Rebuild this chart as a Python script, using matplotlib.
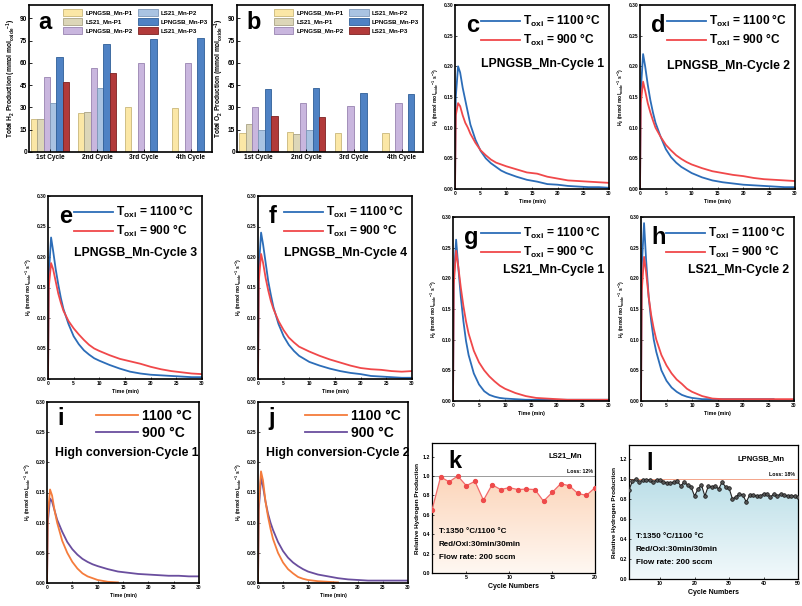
import numpy as np
import matplotlib
matplotlib.use('Agg')
import matplotlib.pyplot as plt
from matplotlib.colors import LinearSegmentedColormap

plt.rcParams['font.family'] = ['Liberation Sans', 'DejaVu Sans']
plt.rcParams['font.weight'] = 'bold'
plt.rcParams['axes.labelweight'] = 'bold'
plt.rcParams['mathtext.fontset'] = 'custom'
plt.rcParams['mathtext.rm'] = 'Liberation Sans:bold'
plt.rcParams['mathtext.it'] = 'Liberation Sans:bold'
plt.rcParams['mathtext.bf'] = 'Liberation Sans:bold'
plt.rcParams['xtick.direction'] = 'in'
plt.rcParams['ytick.direction'] = 'in'

nan = np.nan

# ---- a / b : total production bars ----
cycles = ['1st Cycle', '2nd Cycle', '3rd Cycle', '4th Cycle']
series = ['LPNGSB_Mn-P1', 'LS21_Mn-P1', 'LPNGSB_Mn-P2', 'LS21_Mn-P2', 'LPNGSB_Mn-P3', 'LS21_Mn-P3']
h2_total = [
    [22.0, 26.3, 30.2, 29.5],
    [22.0, 26.7, nan, nan],
    [50.7, 56.5, 59.8, 59.8],
    [33.2, 43.3, nan, nan],
    [63.8, 72.8, 76.0, 77.0],
    [47.0, 53.3, nan, nan],
]
o2_total = [
    [12.8, 13.2, 12.8, 12.6],
    [18.6, 12.0, nan, nan],
    [30.2, 33.0, 31.0, 32.8],
    [14.8, 14.8, nan, nan],
    [42.2, 43.0, 39.5, 39.0],
    [24.0, 23.5, nan, nan],
]
bar_colors = ['#FBE7A6', '#DCD6B8', '#C9B6DE', '#A9C3E2', '#4F82C4', '#B23A3A']
bar_edges = ['#C9B77A', '#A9A386', '#9883B0', '#7E98B8', '#2F5E98', '#7C2222']

# ---- c-h : H2 production rate (time in min) ----
t = [0, 0.15, 0.6, 1, 1.5, 2, 2.5, 3, 4, 5, 6, 7, 8, 9, 10, 12, 14, 16, 18, 20, 22, 24, 26, 28, 30]
c_1100 = [0, 0.150, 0.200, 0.190, 0.165, 0.145, 0.125, 0.105, 0.080, 0.062, 0.050, 0.042, 0.036, 0.030, 0.026, 0.020, 0.015, 0.012, 0.008, 0.007, 0.005, 0.004, 0.003, 0.003, 0.002]
c_900 = [0, 0.120, 0.140, 0.135, 0.120, 0.108, 0.100, 0.090, 0.075, 0.063, 0.055, 0.048, 0.043, 0.040, 0.037, 0.032, 0.027, 0.025, 0.020, 0.017, 0.014, 0.013, 0.012, 0.011, 0.010]
d_1100 = [0, 0.160, 0.220, 0.200, 0.170, 0.145, 0.125, 0.108, 0.085, 0.065, 0.052, 0.043, 0.036, 0.031, 0.026, 0.019, 0.014, 0.011, 0.009, 0.007, 0.006, 0.005, 0.004, 0.003, 0.003]
d_900 = [0, 0.140, 0.175, 0.160, 0.140, 0.125, 0.112, 0.100, 0.085, 0.072, 0.063, 0.055, 0.049, 0.044, 0.040, 0.034, 0.029, 0.026, 0.023, 0.021, 0.018, 0.016, 0.015, 0.014, 0.013]
e_1100 = [0, 0.170, 0.232, 0.210, 0.180, 0.155, 0.133, 0.115, 0.090, 0.070, 0.057, 0.047, 0.040, 0.034, 0.030, 0.023, 0.017, 0.012, 0.009, 0.007, 0.006, 0.005, 0.004, 0.003, 0.003]
e_900 = [0, 0.150, 0.190, 0.180, 0.160, 0.140, 0.125, 0.112, 0.095, 0.083, 0.073, 0.064, 0.056, 0.050, 0.046, 0.039, 0.033, 0.029, 0.025, 0.020, 0.016, 0.013, 0.011, 0.009, 0.008]
f_1100 = [0, 0.180, 0.240, 0.220, 0.190, 0.160, 0.138, 0.118, 0.090, 0.070, 0.056, 0.046, 0.038, 0.033, 0.028, 0.022, 0.017, 0.013, 0.010, 0.008, 0.005, 0.004, 0.003, 0.002, 0.002]
f_900 = [0, 0.160, 0.205, 0.190, 0.165, 0.145, 0.128, 0.115, 0.095, 0.080, 0.068, 0.060, 0.053, 0.049, 0.045, 0.038, 0.032, 0.027, 0.022, 0.018, 0.016, 0.015, 0.013, 0.012, 0.013]
g_1100 = [0, 0.200, 0.263, 0.220, 0.170, 0.130, 0.098, 0.075, 0.045, 0.027, 0.016, 0.010, 0.007, 0.005, 0.004, 0.003, 0.002, 0.002, 0.002, 0.002, 0.002, 0.002, 0.002, 0.002, 0.002]
g_900 = [0, 0.190, 0.245, 0.220, 0.185, 0.155, 0.130, 0.110, 0.082, 0.063, 0.050, 0.040, 0.032, 0.025, 0.020, 0.013, 0.008, 0.005, 0.004, 0.003, 0.002, 0.002, 0.002, 0.002, 0.002]
h_1100 = [0, 0.220, 0.290, 0.230, 0.170, 0.130, 0.100, 0.080, 0.050, 0.033, 0.022, 0.015, 0.010, 0.007, 0.005, 0.003, 0.003, 0.003, 0.003, 0.003, 0.003, 0.003, 0.003, nan, nan]
h_900 = [0, 0.180, 0.235, 0.210, 0.170, 0.140, 0.118, 0.100, 0.075, 0.058, 0.045, 0.035, 0.028, 0.020, 0.015, 0.008, 0.004, 0.003, 0.003, 0.003, 0.003, 0.003, 0.003, 0.003, 0.003]

# ---- i, j : high conversion ----
i_1100 = [0, 0.110, 0.155, 0.145, 0.120, 0.100, 0.085, 0.070, 0.050, 0.035, 0.024, 0.016, 0.011, 0.008, 0.005, 0.002, 0.001, nan, nan, nan, nan, nan, nan, nan, nan]
i_900 = [0, 0.100, 0.140, 0.135, 0.120, 0.105, 0.095, 0.085, 0.068, 0.056, 0.047, 0.040, 0.035, 0.031, 0.028, 0.023, 0.019, 0.017, 0.015, 0.014, 0.013, 0.012, 0.012, 0.011, 0.011]
j_1100 = [0, 0.130, 0.185, 0.170, 0.135, 0.110, 0.090, 0.073, 0.050, 0.034, 0.023, 0.016, 0.010, 0.007, 0.005, 0.003, 0.002, 0.001, nan, nan, nan, nan, nan, nan, nan]
j_900 = [0, 0.120, 0.175, 0.160, 0.135, 0.115, 0.100, 0.088, 0.068, 0.053, 0.042, 0.034, 0.028, 0.023, 0.019, 0.014, 0.011, 0.008, 0.006, 0.005, 0.004, 0.004, 0.004, 0.004, 0.004]

# ---- k, l : cycling stability ----
k_cycles = list(range(1, 21))
k_rel = [0.65, 0.99, 0.94, 1.00, 0.90, 0.945, 0.75, 0.91, 0.86, 0.88, 0.86, 0.865, 0.86, 0.74, 0.83, 0.92, 0.90, 0.82, 0.80, 0.88]
l_cycles = list(range(1, 51))
l_rel = [0.89, 0.98, 1.00, 0.97, 0.99, 0.99, 0.99, 0.97, 0.99, 0.99,
         0.97, 0.96, 0.96, 0.97, 0.98, 0.93, 0.97, 0.94, 0.92, 0.83,
         0.90, 0.94, 0.83, 0.93, 0.92, 0.93, 0.90, 0.97, 0.92, 0.91,
         0.80, 0.82, 0.85, 0.84, 0.77, 0.84, 0.84, 0.83, 0.83, 0.85,
         0.85, 0.82, 0.85, 0.83, 0.85, 0.84, 0.83, 0.83, 0.83, 0.82]

BLUE = '#2C6DB8'
RED = '#F0484A'
ORANGE = '#F57C3C'
PURPLE = '#6A4E9E'

W, H = 802, 606
fig = plt.figure(figsize=(W / 100, H / 100), dpi=100)


def add_ax(l, r, t_, b):
    return fig.add_axes([l / W, 1 - b / H, (r - l) / W, (b - t_) / H])


def frame(ax, lw=1.2):
    for s in ax.spines.values():
        s.set_linewidth(lw)


# bars
for box, data, lab, letter in [((29, 212, 5, 152), h2_total, r'Total H$_2$ Production (mmol mol$_{oxide}$$^{-1}$)', 'a'),
                               ((237, 423, 5, 152), o2_total, r'Total O$_2$ Production (mmol mol$_{oxide}$$^{-1}$)', 'b')]:
    ax = add_ax(*box)
    x = np.arange(len(cycles))
    w = 0.135
    for k in range(len(series)):
        ax.bar(x + (k - 2.5) * w, data[k], w, color=bar_colors[k], edgecolor=bar_edges[k],
               linewidth=0.6, label=series[k])
    ax.set_xlim(-0.45, 3.45)
    ax.set_ylim(0, 99)
    ax.set_yticks(range(0, 91, 15))
    ax.set_xticks(x)
    ax.set_xticklabels(cycles)
    ax.tick_params(labelsize=4.7, length=2, width=0.6, pad=1.5)
    ax.set_ylabel(lab, fontsize=4.8, labelpad=1)
    frame(ax)
    ax.text(0.05, 0.96, letter, transform=ax.transAxes, fontsize=17, fontweight='bold', va='top')
    ax.legend(ncol=2, loc='upper right', fontsize=4.4, frameon=False, handlelength=3.2,
              handleheight=1.4, columnspacing=1.0, labelspacing=0.35, borderaxespad=0.2,
              handletextpad=0.5)

# rate curves
rate_label = r'H$_2$ (mmol mol$_{oxide}$$^{-1}$ s$^{-1}$)'
rate_panels = [
    ((455, 609, 5, 189), c_1100, c_900, 'c', 'LPNGSB_Mn-Cycle 1', 0.68),
    ((640, 795, 5, 189), d_1100, d_900, 'd', 'LPNGSB_Mn-Cycle 2', 0.67),
    ((48, 202, 196, 379), e_1100, e_900, 'e', 'LPNGSB_Mn-Cycle 3', 0.69),
    ((258, 412, 196, 379), f_1100, f_900, 'f', 'LPNGSB_Mn-Cycle 4', 0.69),
    ((453, 609, 217, 401), g_1100, g_900, 'g', 'LS21_Mn-Cycle 1', 0.71),
    ((641, 794, 217, 401), h_1100, h_900, 'h', 'LS21_Mn-Cycle 2', 0.71),
]
for box, y1, y2, letter, title, ty in rate_panels:
    ax = add_ax(*box)
    ax.plot(t, y1, color=BLUE, lw=1.3, label=r'T$_{oxi}$ = 1100 °C')
    ax.plot(t, y2, color=RED, lw=1.3, label=r'T$_{oxi}$ = 900 °C')
    ax.set_xlim(0, 30)
    ax.set_ylim(0, 0.30)
    ax.set_xticks(range(0, 31, 5))
    ax.set_yticks(np.arange(0, 0.31, 0.05))
    ax.yaxis.set_major_formatter(matplotlib.ticker.FormatStrFormatter('%.2f'))
    ax.tick_params(labelsize=3.5, length=1.5, width=0.5, pad=1.5)
    ax.set_xlabel('Time (min)', fontsize=3.8, labelpad=2)
    ax.set_ylabel(rate_label, fontsize=3.6, labelpad=2)
    frame(ax)
    ax.text(0.07, 0.95, letter, transform=ax.transAxes, fontsize=17, fontweight='bold', va='top')
    ax.text(0.97, ty, title, transform=ax.transAxes, fontsize=8.8, fontweight='bold', ha='right', va='center')
    ax.legend(loc='upper right', fontsize=8.6, frameon=False, handlelength=3.2, handletextpad=0.3,
              labelspacing=0.25, borderaxespad=0.25)

for box, y1, y2, letter, title in [((47, 199, 402, 583), i_1100, i_900, 'i', 'High conversion-Cycle 1'),
                                   ((258, 408, 402, 583), j_1100, j_900, 'j', 'High conversion-Cycle 2')]:
    ax = add_ax(*box)
    ax.plot(t, y2, color=PURPLE, lw=1.3, label='900 °C')
    ax.plot(t, y1, color=ORANGE, lw=1.3, label='1100 °C')
    ax.set_xlim(0, 30)
    ax.set_ylim(0, 0.30)
    ax.set_xticks(range(0, 31, 5))
    ax.set_yticks(np.arange(0, 0.31, 0.05))
    ax.yaxis.set_major_formatter(matplotlib.ticker.FormatStrFormatter('%.2f'))
    ax.tick_params(labelsize=3.5, length=1.5, width=0.5, pad=1.5)
    ax.set_xlabel('Time (min)', fontsize=3.8, labelpad=2)
    ax.set_ylabel(rate_label, fontsize=3.6, labelpad=2)
    frame(ax)
    ax.text(0.07, 0.97, letter, transform=ax.transAxes, fontsize=17, fontweight='bold', va='top')
    ax.text(0.05, 0.72, title, transform=ax.transAxes, fontsize=8.8, fontweight='bold', ha='left',
            va='center', clip_on=False)
    hs, ls = ax.get_legend_handles_labels()
    ax.legend(hs[::-1], ls[::-1], loc='upper right', fontsize=10, frameon=False, handlelength=3.0,
              handletextpad=0.3, labelspacing=0.2, borderaxespad=0.1)

# stability panels
for box, xs, ys, letter, name, loss, line_c, mark_c, fill_cols, hcol, xmax, xt in [
        ((432, 595, 443, 573), k_cycles, k_rel, 'k', 'LS21_Mn', 'Loss: 12%', '#F26B6B', '#EE4B4B',
         ['#FFF8F2', '#FCD5BA'], '#9A9A9A', 20, [5, 10, 15, 20]),
        ((629, 798, 445, 579), l_cycles, l_rel, 'l', 'LPNGSB_Mn', 'Loss: 18%', '#222222', '#222222',
         ['#F2F9FB', '#BCDFE8'], '#F4A58A', 50, [10, 20, 30, 40, 50])]:
    ax = add_ax(*box)
    poly = ax.fill_between(xs, ys, 0, color='none', lw=0)
    cmap = LinearSegmentedColormap.from_list('g', fill_cols)
    grad = np.linspace(0, 1, 256).reshape(-1, 1)
    img = ax.imshow(grad, extent=[1, xmax, 0, 1.0], aspect='auto', origin='lower', cmap=cmap, zorder=0)
    img.set_clip_path(poly.get_paths()[0], transform=ax.transData)
    ax.axhline(1.0, color=hcol, lw=0.7, zorder=1)
    if letter == 'k':
        ax.plot(xs, ys, color=line_c, lw=0.9, marker='o', ms=2.8, mfc=mark_c, mec=mark_c, zorder=3)
    else:
        ax.plot(xs, ys, color=line_c, lw=0.8, marker='o', ms=2.6, mfc='#555555', mec='#111111',
                mew=0.5, zorder=3)
    ax.set_xlim(1, xmax)
    ax.set_ylim(0, 1.34)
    ax.set_xticks(xt)
    ax.set_yticks(np.arange(0, 1.21, 0.2))
    ax.yaxis.set_major_formatter(matplotlib.ticker.FormatStrFormatter('%.1f'))
    ax.tick_params(labelsize=3.8, length=1.5, width=0.5, pad=1.5)
    ax.set_xlabel('Cycle Numbers', fontsize=5, labelpad=2)
    ax.set_ylabel('Relative Hydrogen Production', fontsize=4.6, labelpad=2)
    frame(ax, 0.9)
    ax.text(0.1, 0.95, letter, transform=ax.transAxes, fontsize=17, fontweight='bold', va='top')
    ax.text(0.92, 0.9, name, transform=ax.transAxes, fontsize=5.5, fontweight='bold', ha='right', va='center')
    ax.text(0.985, 0.78, loss, transform=ax.transAxes, fontsize=3.8, fontweight='bold', ha='right', va='center')
    for yy, txt in [(0.32, 'T:1350 °C/1100 °C'), (0.22, 'Red/Oxi:30min/30min'), (0.12, 'Flow rate: 200 sccm')]:
        ax.text(0.04, yy, txt, transform=ax.transAxes, fontsize=5.8, fontweight='bold', va='center')

fig.savefig('out.png', dpi=100)
